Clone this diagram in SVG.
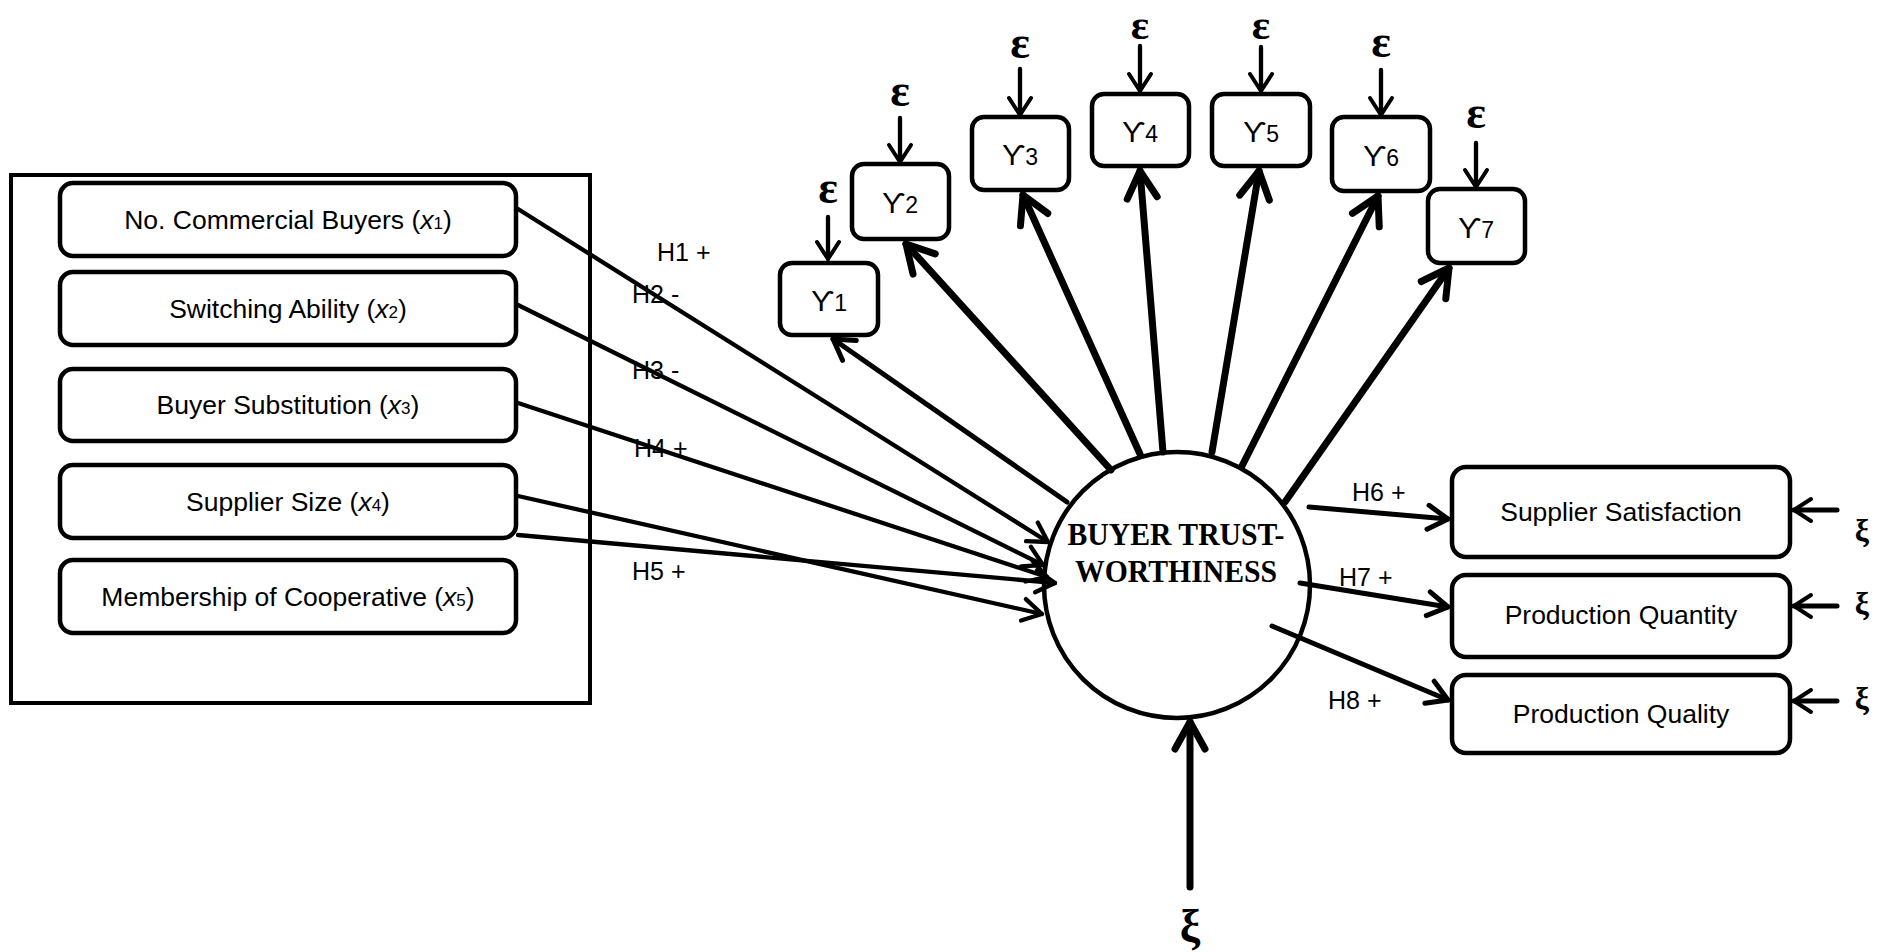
<svg xmlns="http://www.w3.org/2000/svg" width="1890" height="952" viewBox="0 0 1890 952">
<style>
.box{fill:#fff;stroke:#000;stroke-width:4.5}
.lbl{font-family:"Liberation Sans",Arial,sans-serif;font-size:26.5px;fill:#000;text-anchor:middle}
.hl{font-family:"Liberation Sans",Arial,sans-serif;font-size:25px;fill:#000}
.ylb{font-family:"Liberation Sans","DejaVu Sans",sans-serif;font-size:30px;fill:#000;text-anchor:middle}
.eps{font-family:"Liberation Serif","DejaVu Serif",serif;font-weight:bold;font-size:46px;fill:#000;text-anchor:middle}
.epst{font-size:43px}
.xi{font-family:"Liberation Serif","DejaVu Serif",serif;font-weight:bold;font-size:32px;fill:#000;text-anchor:middle}
.title{font-family:"Liberation Serif","DejaVu Serif",serif;font-weight:bold;font-size:32px;fill:#000;text-anchor:middle}
.ln{fill:none;stroke:#000;stroke-linecap:round}
.w4{stroke-width:4.3}
.w5{stroke-width:5}
.w7{stroke-width:7}
</style>
<defs>
<marker id="ah" viewBox="-40 -25 50 50" markerWidth="50" markerHeight="50" refX="0" refY="0" orient="auto" markerUnits="userSpaceOnUse">
<path d="M-19,-11 L0,0 L-19,11" fill="none" stroke="#000" stroke-width="4.3" stroke-linecap="round" stroke-linejoin="round"/>
</marker>
<marker id="ahm" viewBox="-40 -25 50 50" markerWidth="50" markerHeight="50" refX="0" refY="0" orient="auto" markerUnits="userSpaceOnUse">
<path d="M-20,-12 L0,0 L-20,12" fill="none" stroke="#000" stroke-width="5" stroke-linecap="round" stroke-linejoin="round"/>
</marker>
<marker id="ahs" viewBox="-40 -25 50 50" markerWidth="50" markerHeight="50" refX="0" refY="0" orient="auto" markerUnits="userSpaceOnUse">
<path d="M-17,-11 L0,0 L-17,11" fill="none" stroke="#000" stroke-width="4" stroke-linecap="round" stroke-linejoin="round"/>
</marker>
<marker id="aht" viewBox="-40 -25 50 50" markerWidth="50" markerHeight="50" refX="0" refY="0" orient="auto" markerUnits="userSpaceOnUse">
<path d="M-27,-15 L0,0 L-27,15" fill="none" stroke="#000" stroke-width="7" stroke-linecap="round" stroke-linejoin="round"/>
</marker>
</defs>
<rect width="1890" height="952" fill="#fff"/>

<g id="exogenous-frame">
<rect x="11" y="175" width="579" height="528" fill="none" stroke="#000" stroke-width="4"/>
</g>

<g id="connectors">
<line class="ln w4" x1="518" y1="209" x2="1048" y2="542" marker-end="url(#ah)"/>
<line class="ln w4" x1="518" y1="305" x2="1043" y2="565" marker-end="url(#ah)"/>
<line class="ln w4" x1="518" y1="403" x2="1047" y2="577" marker-end="url(#ah)"/>
<line class="ln w4" x1="518" y1="496" x2="1042" y2="614" marker-end="url(#ah)"/>
<line class="ln w4" x1="518" y1="535" x2="1055" y2="583" marker-end="url(#ah)"/>
<line class="ln w5" x1="1067" y1="502" x2="833" y2="339" marker-end="url(#ahm)"/>
<line class="ln w7" x1="1111" y1="470" x2="906" y2="244" marker-end="url(#aht)"/>
<line class="ln w7" x1="1140" y1="454" x2="1023" y2="195" marker-end="url(#aht)"/>
<line class="ln w7" x1="1163" y1="452" x2="1140" y2="171" marker-end="url(#aht)"/>
<line class="ln w7" x1="1212" y1="452" x2="1259" y2="171" marker-end="url(#aht)"/>
<line class="ln w7" x1="1242" y1="466" x2="1378" y2="196" marker-end="url(#aht)"/>
<line class="ln w7" x1="1285" y1="502" x2="1449" y2="268" marker-end="url(#aht)"/>
<line class="ln w4" x1="828" y1="217" x2="828" y2="259" marker-end="url(#ahs)"/>
<line class="ln w4" x1="900" y1="118" x2="900" y2="162" marker-end="url(#ahs)"/>
<line class="ln w4" x1="1020" y1="69" x2="1020" y2="115" marker-end="url(#ahs)"/>
<line class="ln w4" x1="1140" y1="46" x2="1140" y2="91" marker-end="url(#ahs)"/>
<line class="ln w4" x1="1261" y1="47" x2="1261" y2="91" marker-end="url(#ahs)"/>
<line class="ln w4" x1="1381" y1="70" x2="1381" y2="115" marker-end="url(#ahs)"/>
<line class="ln w4" x1="1476" y1="143" x2="1476" y2="187" marker-end="url(#ahs)"/>
<line class="ln w5" x1="1309" y1="507" x2="1448" y2="519" marker-end="url(#ahm)"/>
<line class="ln w5" x1="1300" y1="583" x2="1448" y2="607" marker-end="url(#ahm)"/>
<line class="ln w5" x1="1272" y1="626" x2="1448" y2="700" marker-end="url(#ahm)"/>
<line class="ln w5" x1="1837" y1="510" x2="1794" y2="510" marker-end="url(#ahs)"/>
<line class="ln w5" x1="1837" y1="606" x2="1794" y2="606" marker-end="url(#ahs)"/>
<line class="ln w5" x1="1837" y1="701" x2="1794" y2="701" marker-end="url(#ahs)"/>
<line class="ln w7" x1="1190" y1="887" x2="1190" y2="722" marker-end="url(#aht)"/>
</g>

<g id="hyp-labels">
<text class="hl" x="657" y="261">H1 +</text>
<text class="hl" x="632" y="303">H2 -</text>
<text class="hl" x="632" y="379">H3 -</text>
<text class="hl" x="634" y="457">H4 +</text>
<text class="hl" x="632" y="580">H5 +</text>
<text class="hl" x="1352" y="501">H6 +</text>
<text class="hl" x="1339" y="586">H7 +</text>
<text class="hl" x="1328" y="709">H8 +</text>
</g>

<g id="x1"><rect class="box" x="60" y="183" width="456" height="73" rx="13"/>
<text class="lbl" x="288" y="229">No. Commercial Buyers (<tspan font-style="italic">x</tspan><tspan font-size="17">1</tspan>)</text></g>
<g id="x2"><rect class="box" x="60" y="272" width="456" height="73" rx="13"/>
<text class="lbl" x="288" y="318">Switching Ability (<tspan font-style="italic">x</tspan><tspan font-size="17">2</tspan>)</text></g>
<g id="x3"><rect class="box" x="60" y="369" width="456" height="72" rx="13"/>
<text class="lbl" x="288" y="414">Buyer Substitution (<tspan font-style="italic">x</tspan><tspan font-size="17">3</tspan>)</text></g>
<g id="x4"><rect class="box" x="60" y="465" width="456" height="73" rx="13"/>
<text class="lbl" x="288" y="511">Supplier Size (<tspan font-style="italic">x</tspan><tspan font-size="17">4</tspan>)</text></g>
<g id="x5"><rect class="box" x="60" y="560" width="456" height="73" rx="13"/>
<text class="lbl" x="288" y="606">Membership of Cooperative (<tspan font-style="italic">x</tspan><tspan font-size="17">5</tspan>)</text></g>

<g id="y1"><rect class="box" x="780" y="263" width="98" height="72" rx="12"/>
<text class="ylb" x="829" y="311">ϒ<tspan font-size="23">1</tspan></text><text class="eps" x="828" y="203">ε</text></g>
<g id="y2"><rect class="box" x="852" y="164" width="97" height="75" rx="12"/>
<text class="ylb" x="900" y="213">ϒ<tspan font-size="23">2</tspan></text><text class="eps" x="900" y="106">ε</text></g>
<g id="y3"><rect class="box" x="972" y="117" width="97" height="73" rx="12"/>
<text class="ylb" x="1020" y="165">ϒ<tspan font-size="23">3</tspan></text><text class="eps" x="1020" y="58">ε</text></g>
<g id="y4"><rect class="box" x="1092" y="94" width="97" height="72" rx="12"/>
<text class="ylb" x="1140" y="142">ϒ<tspan font-size="23">4</tspan></text><text class="eps epst" x="1140" y="39">ε</text></g>
<g id="y5"><rect class="box" x="1212" y="94" width="98" height="72" rx="12"/>
<text class="ylb" x="1261" y="142">ϒ<tspan font-size="23">5</tspan></text><text class="eps epst" x="1261" y="39">ε</text></g>
<g id="y6"><rect class="box" x="1332" y="117" width="98" height="74" rx="12"/>
<text class="ylb" x="1381" y="166">ϒ<tspan font-size="23">6</tspan></text><text class="eps" x="1381" y="57">ε</text></g>
<g id="y7"><rect class="box" x="1428" y="189" width="97" height="74" rx="12"/>
<text class="ylb" x="1476" y="238">ϒ<tspan font-size="23">7</tspan></text><text class="eps" x="1476" y="128">ε</text></g>

<g id="buyer-trustworthiness">
<circle cx="1177" cy="585" r="133" fill="none" stroke="#000" stroke-width="4.5"/>
<text class="title" x="1176" y="545" textLength="217" lengthAdjust="spacingAndGlyphs">BUYER TRUST-</text>
<text class="title" x="1176" y="582" textLength="202" lengthAdjust="spacingAndGlyphs">WORTHINESS</text>
<text class="eps" x="1190" y="942">ξ</text>
</g>

<g id="supplier-satisfaction"><rect class="box" x="1452" y="467" width="338" height="90" rx="14"/>
<text class="lbl" x="1621" y="521">Supplier Satisfaction</text><text class="xi" x="1862" y="541">ξ</text></g>
<g id="production-quantity"><rect class="box" x="1452" y="575" width="338" height="82" rx="14"/>
<text class="lbl" x="1621" y="624">Production Quantity</text><text class="xi" x="1862" y="614">ξ</text></g>
<g id="production-quality"><rect class="box" x="1452" y="675" width="338" height="78" rx="14"/>
<text class="lbl" x="1621" y="723">Production Quality</text><text class="xi" x="1862" y="709">ξ</text></g>
</svg>
